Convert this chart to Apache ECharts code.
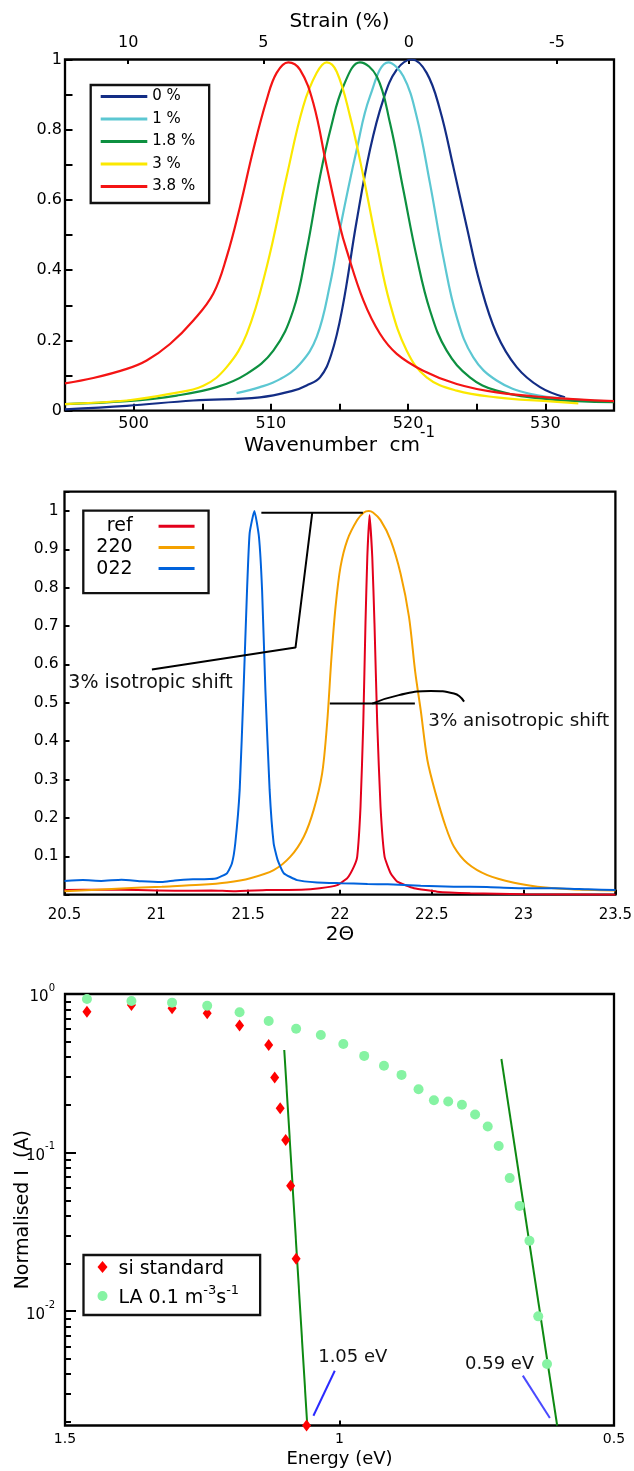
<!DOCTYPE html>
<html><head><meta charset="utf-8">
<script src="https://cdn.jsdelivr.net/npm/echarts@6/dist/echarts.min.js"></script>
<style>html,body{margin:0;padding:0;background:#fff}#c{width:634px;height:1471px}</style>
</head><body><div id="c"></div>
<script>
// ---------- Panel 1: Raman spectra ----------
const ramanNames = ['0 %', '1 %', '1.8 %', '3 %', '3.8 %'];
const wn0 = [495, 499.5, 504.35, 509.2, 511.63, 512.6, 513.58, 514.4, 515.2, 516.25, 517.22, 518.19, 519.17, 520.26, 521.35, 522.32, 523.29, 524.27, 525.24, 526.45, 527.91, 529.61, 531.43];
const int0 = [0.004, 0.014, 0.029, 0.038, 0.057, 0.072, 0.095, 0.16, 0.29, 0.54, 0.743, 0.886, 0.971, 1.0, 0.962, 0.857, 0.695, 0.524, 0.362, 0.219, 0.124, 0.067, 0.038];
const wn1 = [507.5, 509.2, 510.67, 512.12, 513.34, 514.31, 515.1, 516.25, 517.22, 518.56, 519.65, 520.62, 521.59, 522.56, 523.54, 524.75, 526.45, 528.88, 532.52, 535];
const int1 = [0.05, 0.067, 0.09, 0.133, 0.21, 0.36, 0.53, 0.743, 0.895, 0.992, 0.952, 0.838, 0.648, 0.438, 0.267, 0.152, 0.086, 0.048, 0.031, 0.027];
const wn2 = [495, 499.5, 503.14, 506.05, 508.24, 510.18, 511.63, 512.61, 513.58, 514.4, 515.28, 516.49, 517.71, 518.68, 519.65, 520.62, 521.59, 522.81, 524.5, 526.45, 530.1, 535];
const int2 = [0.019, 0.027, 0.043, 0.067, 0.105, 0.171, 0.286, 0.457, 0.667, 0.81, 0.924, 0.992, 0.952, 0.819, 0.629, 0.438, 0.286, 0.171, 0.095, 0.057, 0.033, 0.024];
const wn3 = [495, 499.5, 502.65, 505.08, 506.78, 508.24, 509.7, 511.15, 512.36, 513.34, 514.07, 514.8, 515.77, 516.74, 517.71, 518.68, 519.9, 521.35, 523.54, 526.45, 530.1, 532.4];
const int3 = [0.019, 0.029, 0.048, 0.071, 0.124, 0.219, 0.41, 0.667, 0.867, 0.962, 0.992, 0.965, 0.838, 0.667, 0.476, 0.305, 0.171, 0.095, 0.057, 0.038, 0.027, 0.021];
const wn4 = [495, 497.06, 499.5, 500.95, 502.65, 504.35, 505.8, 506.78, 507.75, 508.72, 509.7, 510.42, 511.27, 512.12, 513.09, 514.07, 515.04, 515.52, 516.74, 517.95, 519.17, 521.1, 523.54, 526.45, 530.1, 535];
const int4 = [0.078, 0.093, 0.119, 0.143, 0.19, 0.257, 0.333, 0.438, 0.581, 0.743, 0.886, 0.962, 0.992, 0.971, 0.876, 0.695, 0.524, 0.457, 0.314, 0.219, 0.162, 0.114, 0.076, 0.052, 0.038, 0.027];
const ramanColors = ['#132d85', '#5cc7d2', '#0d9040', '#fbe800', '#f41414'];
const strainLabels = ['10', '5', '0', '-5'];
const strainWn = [499.6, 509.45, 520.05, 530.85];

// ---------- Panel 2: XRD peaks ----------
const xrdNames = ['ref', '220', '022'];
const ttRef = [20.5, 20.7, 20.9, 21.1, 21.3, 21.42, 21.6, 21.79, 21.89, 21.985, 22.04, 22.076, 22.094, 22.112, 22.127, 22.139, 22.149, 22.161, 22.176, 22.188, 22.203, 22.221, 22.243, 22.276, 22.312, 22.403, 22.53, 22.71, 23.0, 23.5];
const iRef = [0.012, 0.013, 0.012, 0.010, 0.011, 0.009, 0.012, 0.013, 0.017, 0.025, 0.043, 0.073, 0.099, 0.229, 0.446, 0.707, 0.88, 0.989, 0.88, 0.707, 0.446, 0.229, 0.099, 0.056, 0.034, 0.017, 0.008, 0.004, 0.001, 0.0];
const tt220 = [20.5, 20.81, 21.03, 21.24, 21.385, 21.512, 21.639, 21.73, 21.803, 21.857, 21.903, 21.93, 21.954, 21.976, 22.003, 22.04, 22.094, 22.13, 22.157, 22.18, 22.221, 22.276, 22.33, 22.376, 22.41, 22.44, 22.476, 22.521, 22.576, 22.621, 22.694, 22.803, 22.948, 23.076, 23.258, 23.5];
const i220 = [0.009, 0.016, 0.021, 0.026, 0.032, 0.043, 0.064, 0.099, 0.151, 0.221, 0.316, 0.446, 0.62, 0.75, 0.854, 0.924, 0.976, 0.996, 1.0, 0.996, 0.976, 0.924, 0.837, 0.724, 0.58, 0.48, 0.351, 0.264, 0.177, 0.125, 0.082, 0.051, 0.031, 0.021, 0.014, 0.011];
const tt022 = [20.5, 20.6, 20.7, 20.81, 20.92, 21.03, 21.1, 21.2, 21.29, 21.33, 21.385, 21.412, 21.43, 21.454, 21.475, 21.494, 21.508, 21.534, 21.559, 21.576, 21.594, 21.617, 21.639, 21.661, 21.694, 21.767, 21.876, 22.0, 22.15, 22.26, 22.44, 22.62, 22.8, 22.99, 23.17, 23.35, 23.5];
const i022 = [0.036, 0.038, 0.036, 0.039, 0.035, 0.033, 0.037, 0.040, 0.041, 0.043, 0.056, 0.082, 0.134, 0.273, 0.533, 0.793, 0.941, 1.0, 0.932, 0.793, 0.533, 0.273, 0.134, 0.09, 0.056, 0.038, 0.032, 0.030, 0.028, 0.027, 0.023, 0.021, 0.020, 0.017, 0.017, 0.014, 0.012];
const xrdColors = ['#e3001b', '#f4a100', '#0062dc'];
// annotation guides (data coordinates)
const isoBarX = [21.572, 22.125], isoBarY = [0.995, 0.995];
const isoLeadX = [21.849, 21.758, 20.976], isoLeadY = [0.995, 0.644, 0.587];
const anisoBarX = [21.945, 22.408], anisoBarY = [0.498, 0.498];
const anisoHookX = [22.176, 22.321, 22.494, 22.621, 22.676], anisoHookY = [0.498, 0.52, 0.531, 0.524, 0.503];

// ---------- Panel 3: normalised current vs energy ----------
const siE = [1.460, 1.379, 1.305, 1.241, 1.182, 1.129, 1.118, 1.108, 1.098, 1.089, 1.079, 1.060];
const siI = [0.774, 0.852, 0.812, 0.756, 0.632, 0.477, 0.297, 0.190, 0.120, 0.0617, 0.0214, 0.0019];
const laE = [1.460, 1.379, 1.305, 1.241, 1.182, 1.129, 1.079, 1.034, 0.993, 0.955, 0.919, 0.887, 0.856, 0.828, 0.802, 0.777, 0.753, 0.730, 0.710, 0.690, 0.672, 0.654, 0.638, 0.622];
const laI = [0.930, 0.903, 0.882, 0.844, 0.767, 0.676, 0.604, 0.552, 0.484, 0.407, 0.353, 0.309, 0.251, 0.214, 0.210, 0.200, 0.174, 0.146, 0.110, 0.069, 0.0461, 0.0278, 0.00927, 0.00464];
const fit1E = [1.1006, 1.0587], fit1I = [0.4437, 0.0019];
const fit2E = [0.7051, 0.6035], fit2I = [0.389, 0.0019];
const ptr1E = [1.0475, 1.0086], ptr1I = [0.00219, 0.00421];
const ptr2E = [0.6661, 0.6168], ptr2I = [0.00392, 0.00212];
const logMinorTicks = [0.002,0.003,0.004,0.005,0.006,0.007,0.008,0.009,0.02,0.03,0.04,0.05,0.06,0.07,0.08,0.09,0.2,0.3,0.4,0.5,0.6,0.7,0.8,0.9];

const zip = (xs, ys) => xs.map((x, i) => [x, ys[i]]);
const FONT = 'DejaVu Sans';
const tick = (len) => ({ show: true, inside: true, length: len, lineStyle: { color: '#000', width: 2 } });
const noLine = { show: false };
const gridBox = { show: true, borderColor: '#000', borderWidth: 2.3, backgroundColor: 'transparent', outerBoundsMode: 'none', containLabel: false };

const chart = echarts.init(document.getElementById('c'), null, { renderer: 'canvas' });

const ramanX = [wn0, wn1, wn2, wn3, wn4], ramanY = [int0, int1, int2, int3, int4];
const xrdX = [ttRef, tt220, tt022], xrdY = [iRef, i220, i022];
const xrdSmooth = [0.15, 0.3, 0.15];

const series = [];
ramanNames.forEach((n, i) => series.push({
  name: n, type: 'line', xAxisIndex: 0, yAxisIndex: 0, data: zip(ramanX[i], ramanY[i]),
  showSymbol: false, smooth: 0.4, lineStyle: { color: ramanColors[i], width: 2.2 },
  itemStyle: { color: ramanColors[i] }, silent: true, z: 3
}));
xrdNames.forEach((n, i) => series.push({
  name: n, type: 'line', xAxisIndex: 2, yAxisIndex: 1, data: zip(xrdX[i], xrdY[i]),
  showSymbol: false, smooth: xrdSmooth[i], lineStyle: { color: xrdColors[i], width: 2 }, itemStyle: { color: xrdColors[i] }, silent: true, z: 3
}));
[[isoBarX, isoBarY, false], [isoLeadX, isoLeadY, false], [anisoBarX, anisoBarY, false], [anisoHookX, anisoHookY, true]].forEach(a => series.push({
  type: 'line', xAxisIndex: 2, yAxisIndex: 1, data: zip(a[0], a[1]), showSymbol: false, smooth: a[2],
  lineStyle: { color: '#000', width: 2 }, silent: true, z: 4
}));
series.push({ name: 'si standard', type: 'scatter', xAxisIndex: 3, yAxisIndex: 2, data: zip(siE, siI),
  symbol: 'diamond', symbolSize: [9, 12], itemStyle: { color: '#ff0000', opacity: 1 }, silent: true, z: 3 });
series.push({ name: 'LA', type: 'scatter', xAxisIndex: 3, yAxisIndex: 2, data: zip(laE, laI),
  symbol: 'circle', symbolSize: 10, itemStyle: { color: '#86f3a3', opacity: 1 }, silent: true, z: 4 });
[[fit1E, fit1I, '#0e8a12'], [fit2E, fit2I, '#0e8a12'], [ptr1E, ptr1I, '#2a2aff'], [ptr2E, ptr2I, '#4a4aff']].forEach(a => series.push({
  type: 'line', xAxisIndex: 3, yAxisIndex: 2, data: zip(a[0], a[1]), showSymbol: false,
  lineStyle: { color: a[2], width: 2 }, silent: true, z: 2
}));

const option = {
  animation: false,
  backgroundColor: '#fff',
  textStyle: { fontFamily: FONT, color: '#000' },
  grid: [
    Object.assign({ left: 65, right: 20, top: 59.5, height: 351.2 }, gridBox),
    Object.assign({ left: 64.5, right: 18.6, top: 491.7, height: 403 }, gridBox),
    Object.assign({ left: 65, right: 20, top: 994, height: 431.5 }, gridBox)
  ],
  xAxis: [
    { gridIndex: 0, type: 'value', position: 'bottom', min: 495, max: 535, interval: 5,
      axisLine: noLine, axisTick: tick(7), splitLine: noLine,
      axisLabel: { fontSize: 16, color: '#000', margin: 5, formatter: v => (v % 10 === 0 ? String(v) : '') },
      name: '{a|Wavenumber  cm}{s|-1}', nameLocation: 'middle', nameGap: 15, nameMoveOverlap: false,
      nameTextStyle: { rich: { a: { fontSize: 20, lineHeight: 30, verticalAlign: 'bottom', color: '#000' }, s: { fontSize: 15, lineHeight: 15, verticalAlign: 'top', color: '#000' } } } },
    { gridIndex: 0, type: 'value', position: 'top', min: 495, max: 535,
      axisLine: noLine, splitLine: noLine,
      axisTick: Object.assign(tick(4.5), { customValues: strainWn }),
      axisLabel: { fontSize: 16, color: '#000', margin: 9, customValues: strainWn,
        formatter: v => { const k = strainWn.findIndex(w => Math.abs(w - v) < 0.01); return k >= 0 ? strainLabels[k] : ''; } },
      name: 'Strain (%)', nameLocation: 'middle', nameGap: 28, nameMoveOverlap: false, nameTextStyle: { fontSize: 20, color: '#000' } },
    { gridIndex: 1, type: 'value', min: 20.5, max: 23.5, interval: 0.5,
      axisLine: noLine, axisTick: tick(5), splitLine: noLine,
      axisLabel: { fontSize: 15, color: '#000', margin: 13, formatter: v => String(+v.toFixed(1)) },
      name: '2Θ', nameLocation: 'middle', nameGap: 30, nameTextStyle: { fontSize: 20, color: '#000' } },
    { gridIndex: 2, type: 'value', min: 0.5, max: 1.5, interval: 0.5, inverse: true,
      axisLine: noLine, axisTick: tick(5), splitLine: noLine,
      axisLabel: { fontSize: 14, color: '#000', margin: 7, formatter: v => String(+v.toFixed(1)) },
      name: 'Energy (eV)', nameLocation: 'middle', nameGap: 25, nameTextStyle: { fontSize: 18, color: '#000' } }
  ],
  yAxis: [
    { gridIndex: 0, type: 'value', min: 0, max: 1, interval: 0.1,
      axisLine: noLine, axisTick: tick(7.5), splitLine: noLine,
      axisLabel: { fontSize: 16, color: '#000', margin: 3, formatter: v => (Math.round(v * 10) % 2 === 0 ? String(+v.toFixed(1)) : '') } },
    { gridIndex: 1, type: 'value', min: 0, max: 1.05, interval: 0.1,
      axisLine: noLine, axisTick: tick(5), splitLine: noLine,
      axisLabel: { fontSize: 15.5, color: '#000', margin: 6, formatter: v => (v > 0.05 && v < 1.01 ? String(+v.toFixed(1)) : '') } },
    { gridIndex: 2, type: 'log', logBase: 10, min: 0.0019, max: 1,
      axisLine: noLine, axisTick: tick(11), splitLine: noLine, minorTick: { show: false },
      axisLabel: { showMinLabel: false, margin: 10, color: '#000',
        formatter: v => '{b|10}{s|' + Math.round(Math.log10(v)) + '}',
        rich: { b: { fontSize: 15, lineHeight: 22, verticalAlign: 'bottom', color: '#000' }, s: { fontSize: 10, lineHeight: 10, verticalAlign: 'top', color: '#000' } } },
      name: 'Normalised I  (A)', nameLocation: 'middle', nameGap: 32, nameRotate: 90, nameMoveOverlap: false,
      nameTextStyle: { fontSize: 19, color: '#000' } },
    { gridIndex: 2, type: 'log', logBase: 10, min: 0.0019, max: 1, position: 'left',
      axisLine: noLine, splitLine: noLine, axisLabel: { show: false },
      axisTick: Object.assign(tick(6), { customValues: logMinorTicks }) }
  ],
  legend: [
    { data: ramanNames, orient: 'vertical', left: 90.7, top: 85, icon: 'rect', itemWidth: 46.6, itemHeight: 3,
      itemGap: 7.5, padding: [4, 14, 9, 10], borderColor: '#111', borderWidth: 2.3, selectedMode: false,
      textStyle: { fontSize: 15, color: '#000', fontFamily: FONT } },
    { data: xrdNames, orient: 'vertical', align: 'right', left: 83.3, top: 510.7, icon: 'rect', itemWidth: 36, itemHeight: 3,
      itemGap: 2.2, padding: [6, 14, 15, 13], borderColor: '#111', borderWidth: 2.3, selectedMode: false,
      formatter: n => '{t|' + n + '}',
      textStyle: { fontFamily: FONT, rich: { t: { fontSize: 19, lineHeight: 20, padding: [0, 21, 0, 0], color: '#000' } } } },
    { data: ['si standard', 'LA'], orient: 'vertical', left: 83.5, top: 1255, itemWidth: 10, itemHeight: 12,
      symbolKeepAspect: false, itemGap: 5, padding: [5, 21, 7, 14], borderColor: '#111', borderWidth: 2.3, selectedMode: false,
      formatter: n => (n === 'LA' ? '{f|LA 0.1 m}{s|-3}{n|s}{s|-1}' : '{f|si standard}'),
      textStyle: { fontFamily: FONT, rich: {
        f: { fontSize: 19, lineHeight: 24, verticalAlign: 'bottom', color: '#000', padding: [0, 0, 0, 6] },
        n: { fontSize: 19, lineHeight: 24, verticalAlign: 'bottom', color: '#000' },
        s: { fontSize: 13, lineHeight: 13, verticalAlign: 'top', color: '#000' } } } }
  ],
  graphic: [
    { type: 'text', x: 68.3, y: 683.3, style: { text: '3% isotropic shift', fontSize: 19, fontFamily: FONT, fill: '#111', verticalAlign: 'middle' }, z: 10 },
    { type: 'text', x: 428.3, y: 721.7, style: { text: '3% anisotropic shift', fontSize: 18.3, fontFamily: FONT, fill: '#111', verticalAlign: 'middle' }, z: 10 },
    { type: 'text', x: 318.2, y: 1357.7, style: { text: '1.05 eV', fontSize: 18, fontFamily: FONT, fill: '#111', verticalAlign: 'middle' }, z: 10 },
    { type: 'text', x: 465, y: 1364.3, style: { text: '0.59 eV', fontSize: 18, fontFamily: FONT, fill: '#111', verticalAlign: 'middle' }, z: 10 }
  ],
  series: series
};
chart.setOption(option);
</script>
</body></html>
